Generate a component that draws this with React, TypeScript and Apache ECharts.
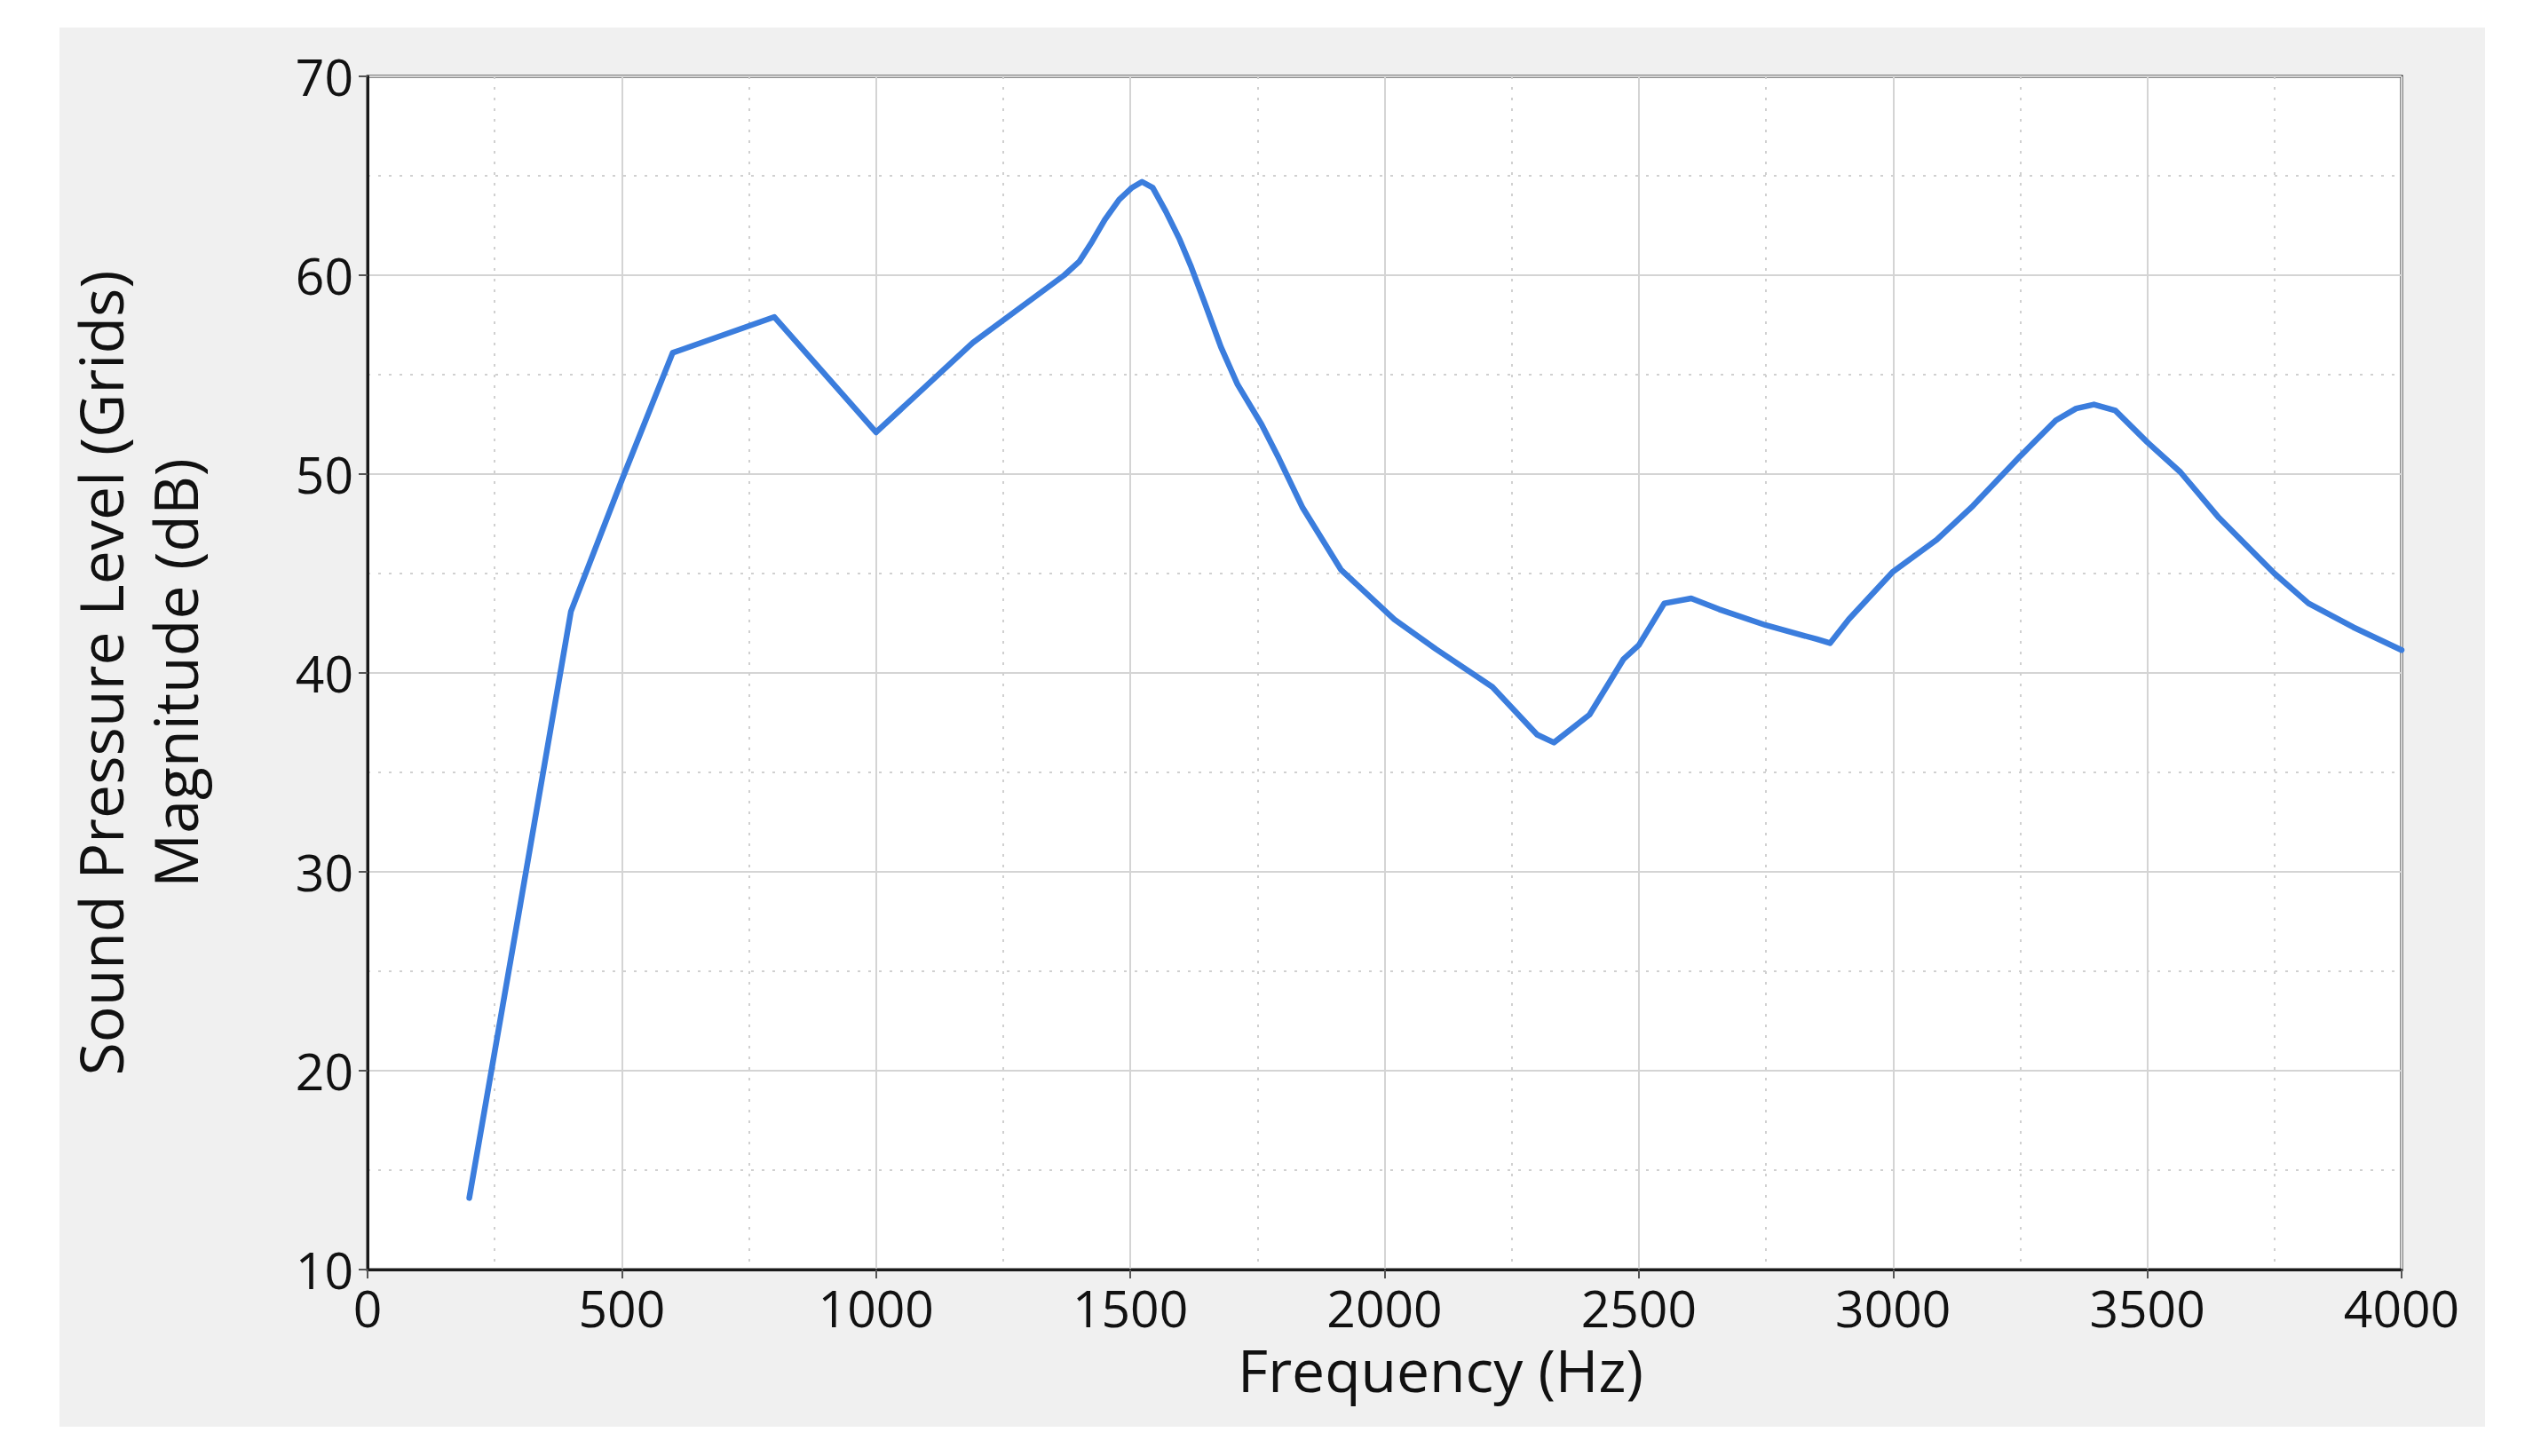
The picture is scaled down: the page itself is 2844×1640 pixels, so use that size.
import React, { useEffect, useRef } from "react";
import * as echarts from "echarts";

const frequencies = [
  200, 300, 400, 500, 600, 800, 1000, 1190, 1370, 1400, 1425, 1450, 1478, 1503,
  1523, 1544, 1570, 1597, 1620, 1645, 1678, 1711, 1758, 1792, 1839, 1914, 2019,
  2101, 2212, 2300, 2333, 2403, 2470, 2500, 2550, 2603, 2658, 2750, 2850, 2876,
  2913, 3000, 3086, 3157, 3250, 3320, 3360, 3395, 3437, 3500, 3565, 3641, 3750,
  3817, 3905, 4000,
];
const magnitudes = [
  13.6, 28.3, 43.1, 49.7, 56.1, 57.9, 52.1, 56.6, 60.0, 60.7, 61.7, 62.8, 63.8,
  64.4, 64.7, 64.4, 63.2, 61.8, 60.4, 58.7, 56.4, 54.5, 52.5, 50.8, 48.3, 45.2,
  42.7, 41.2, 39.3, 36.9, 36.5, 37.9, 40.7, 41.4, 43.5, 43.75, 43.2, 42.4, 41.7,
  41.5, 42.7, 45.1, 46.7, 48.4, 50.9, 52.7, 53.3, 53.5, 53.2, 51.6, 50.1, 47.8,
  45.0, 43.5, 42.3, 41.15,
];

const xTitle = "Frequency (Hz)";
const yTitle = "Sound Pressure Level (Grids)\nMagnitude (dB)";
const xRange = { min: 0, max: 4000, interval: 500 };
const yRange = { min: 10, max: 70, interval: 10 };

export default function App() {
  const ref = useRef<HTMLDivElement>(null);
  useEffect(() => {
    if (!ref.current) return;
    const chart = echarts.init(ref.current, null, { renderer: "svg" });
    const font = "'Open Sans', 'Noto Sans', sans-serif";
    const data = frequencies.map((f, i) => [f, magnitudes[i]]);
    const plain = (v: number) => String(v);
    chart.setOption({
      animation: false,
      backgroundColor: "#ffffff",
      textStyle: { fontFamily: font },
      graphic: [
        {
          type: "rect",
          z: -10,
          silent: true,
          shape: { x: 67, y: 31, width: 2732, height: 1576 },
          style: { fill: "#f0f0f0" },
        },
      ],
      grid: {
        left: 414,
        right: 139,
        top: 86,
        bottom: 210,
        show: true,
        backgroundColor: "#ffffff",
        borderColor: "#1a1a1a",
        borderWidth: 3,
        z: 0,
      },
      xAxis: {
        type: "value",
        min: xRange.min,
        max: xRange.max,
        interval: xRange.interval,
        name: xTitle,
        nameLocation: "middle",
        nameGap: 82,
        nameTextStyle: {
          fontSize: 66,
          lineHeight: 60,
          color: "#111",
          fontFamily: font,
          padding: [0, 0, 0, 126],
        },
        axisLine: { show: true, lineStyle: { color: "#1a1a1a", width: 3 } },
        axisTick: {
          show: true,
          inside: false,
          length: 10,
          lineStyle: { color: "#555", width: 2 },
        },
        axisLabel: {
          fontSize: 57,
          lineHeight: 46,
          color: "#111",
          margin: 20,
          fontFamily: font,
          formatter: plain,
        },
        splitLine: { show: true, lineStyle: { color: "#d4d4d4", width: 2 } },
        minorTick: { show: false, splitNumber: 2 },
        minorSplitLine: {
          show: true,
          lineStyle: { color: "#d0d0d0", width: 2, type: [3, 9] },
        },
      },
      yAxis: {
        type: "value",
        min: yRange.min,
        max: yRange.max,
        interval: yRange.interval,
        name: yTitle,
        nameLocation: "middle",
        nameGap: 176,
        nameTextStyle: {
          fontSize: 68,
          lineHeight: 84,
          color: "#111",
          fontFamily: font,
        },
        axisLine: { show: true, lineStyle: { color: "#1a1a1a", width: 3 } },
        axisTick: {
          show: true,
          inside: false,
          length: 10,
          lineStyle: { color: "#555", width: 2 },
        },
        axisLabel: {
          fontSize: 57,
          lineHeight: 50,
          color: "#111",
          margin: 16,
          fontFamily: font,
          formatter: plain,
        },
        splitLine: { show: true, lineStyle: { color: "#d4d4d4", width: 2 } },
        minorTick: { show: false, splitNumber: 2 },
        minorSplitLine: {
          show: true,
          lineStyle: { color: "#d0d0d0", width: 2, type: [3, 9] },
        },
      },
      series: [
        {
          type: "line",
          data,
          showSymbol: false,
          symbol: "none",
          smooth: false,
          lineStyle: { color: "#3b7ddd", width: 6.5, join: "round", cap: "round" },
          z: 5,
        },
      ],
    });
    return () => chart.dispose();
  }, []);
  return (
    <div
      ref={ref}
      style={{ position: "absolute", left: 0, top: 0, width: 2844, height: 1640 }}
    />
  );
}
